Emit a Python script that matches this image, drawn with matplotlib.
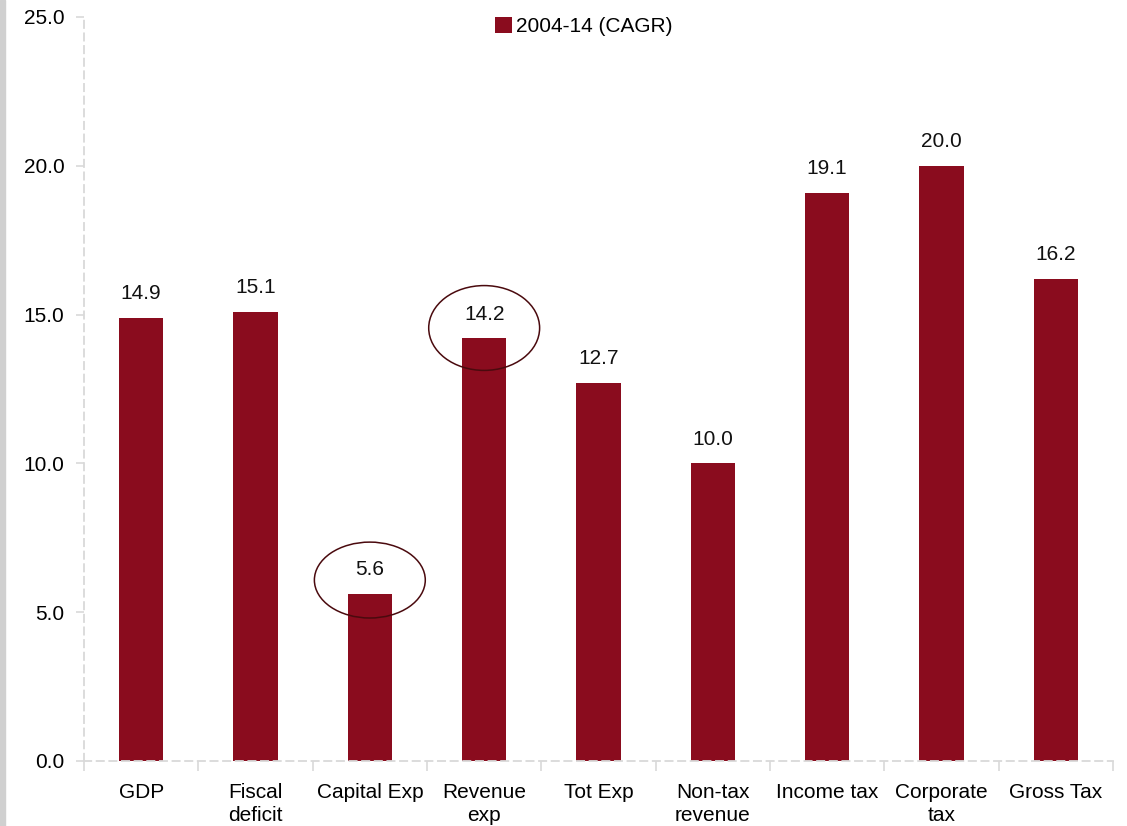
import numpy as np
import matplotlib
matplotlib.use("Agg")
import matplotlib.pyplot as plt
from matplotlib.patches import Ellipse, Rectangle

# CAGR 2004-14 by budget item
categories = ["GDP", "Fiscal\ndeficit", "Capital Exp", "Revenue\nexp", "Tot Exp",
              "Non-tax\nrevenue", "Income tax", "Corporate\ntax", "Gross Tax"]
cagr = [14.9, 15.1, 5.6, 14.2, 12.7, 10.0, 19.1, 20.0, 16.2]
circled = ["Capital Exp", "Revenue\nexp"]
yticks = [0, 5, 10, 15, 20, 25]

bar_color = "#8A0C1E"
grid_gray = "#D9D9D9"

plt.rcParams["font.family"] = ["Liberation Sans", "DejaVu Sans"]

fig = plt.figure(figsize=(11.27, 8.26), dpi=100)
ax = fig.add_axes([84 / 1127, 65 / 826, 1029 / 1127, 744 / 826])

x = np.arange(len(categories))
ax.bar(x, cagr, width=0.39, color=bar_color, label="2004-14 (CAGR)", zorder=2)

for xi, v in zip(x, cagr):
    ax.text(xi, v + 0.5, f"{v:.1f}", ha="center", va="bottom", fontsize=15, color="#111111")

# circles round the two expenditure labels
for name in circled:
    i = categories.index(name)
    v = cagr[i]
    if v > 10:
        cy, h = v + 0.35, 2.85
    else:
        cy, h = v + 0.48, 2.55
    ax.add_patch(Ellipse((i, cy), 0.97, h, fill=False, edgecolor="#4A0A0E",
                         linewidth=1.1, zorder=3, clip_on=False))

ax.set_xlim(-0.5, len(categories) - 0.5)
ax.set_ylim(0, 25)
ax.set_yticks(yticks)
ax.set_yticklabels([f"{t:.1f}" for t in yticks], fontsize=15)
ax.set_xticks(x)
ax.set_xticklabels(categories, fontsize=15, linespacing=1.25)
ax.tick_params(axis="x", length=0, pad=16)
ax.tick_params(axis="y", length=6, color=grid_gray, width=1.2, pad=8)

# category separator ticks on the bottom axis
ax.set_xticks(np.arange(-0.5, len(categories)), minor=True)
ax.tick_params(axis="x", which="minor", length=7, color=grid_gray, width=1.2, direction="out")

for s in ["top", "right"]:
    ax.spines[s].set_visible(False)
for s in ["left", "bottom"]:
    ax.spines[s].set_color(grid_gray)
    ax.spines[s].set_linestyle((0, (4, 3)))
    ax.spines[s].set_linewidth(1.3)

leg = ax.legend(loc="upper center", bbox_to_anchor=(0.486, 1.025), frameon=False, fontsize=15,
                handlelength=0.8, handleheight=0.8, handletextpad=0.2)

# grey strip on the left edge
fig.patches.append(Rectangle((0, 0), 5 / 1127, 1, transform=fig.transFigure,
                             color="#D0D0D0", zorder=0))

fig.savefig("out.png", dpi=100)
